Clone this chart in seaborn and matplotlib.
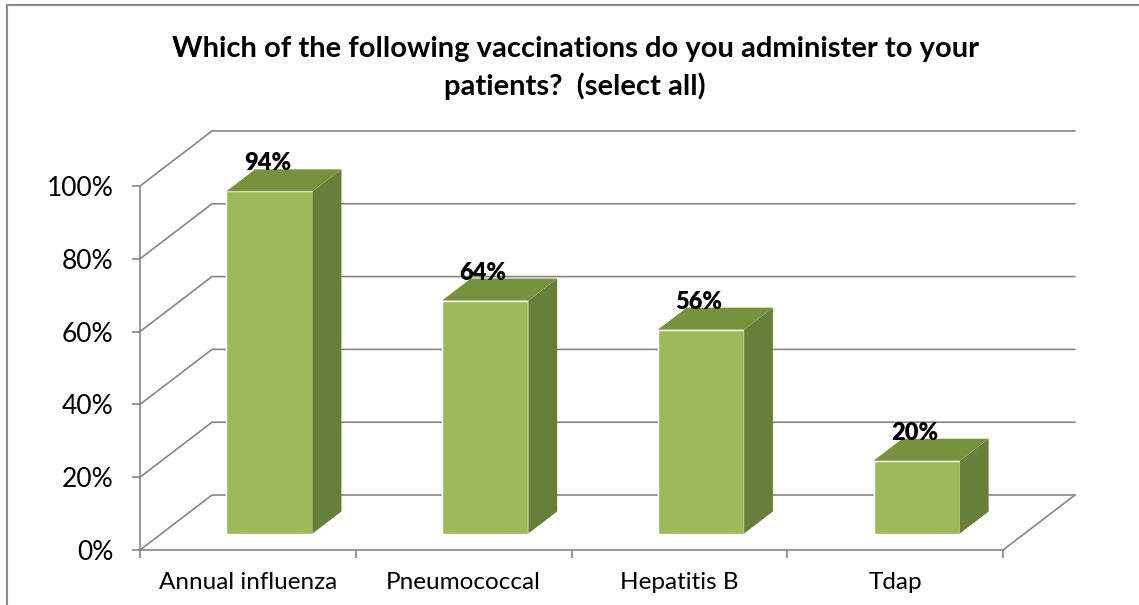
import matplotlib
matplotlib.use("Agg")
import matplotlib.pyplot as plt
import seaborn as sns
from matplotlib.patches import Polygon
from matplotlib.lines import Line2D

# data
categories = ["Annual influenza", "Pneumococcal", "Hepatitis B", "Tdap"]
values = [94, 64, 56, 20]
y_ticks = [0, 20, 40, 60, 80, 100]
y_tick_labels = ["0%", "20%", "40%", "60%", "80%", "100%"]
title = "Which of the following vaccinations do you administer to your\npatients?  (select all)"

front_col = "#9BBB59"
side_col = "#66803A"
top_col = "#76923C"
grid_col = "#868686"

sns.set_style("white")
plt.rcParams["font.family"] = ["Lato", "DejaVu Sans"]
plt.rcParams["text.color"] = "black"
plt.rcParams["xtick.labelcolor"] = "black"
plt.rcParams["ytick.labelcolor"] = "black"

W, H = 1139, 605
fig = plt.figure(figsize=(W / 100, H / 100), dpi=100)
# axes box = front face of the plot (pixels 140..1003, 186..550)
ax = fig.add_axes([140 / W, (H - 550) / H, 863 / W, 364 / H])
ax.set_xlim(-0.5, 3.5)
ax.set_ylim(0, 100)

# depth of the 3d box in data units
DX = 72 / 215.75
DY = 55 / 3.64
d0, d1 = 0.3, 0.7

# back wall gridlines + floor
for v in y_ticks:
    ax.plot([-0.5, -0.5 + DX, 3.5 + DX], [v, v + DY, v + DY], color=grid_col,
            lw=1.2, clip_on=False, zorder=1)
ax.plot([3.5, 3.5 + DX], [0, DY], color=grid_col, lw=1.2, clip_on=False, zorder=1)

sns.barplot(x=categories, y=values, width=0.4, color=front_col, saturation=1,
            ax=ax, zorder=3)

for p, v in zip(ax.patches, values):
    x0 = p.get_x()
    w = p.get_width()
    # push the bar into the middle of the depth
    p.set_x(x0 + d0 * DX)
    p.set_y(d0 * DY)
    p.set_height(v)
    p.set_clip_on(False)
    fx0 = x0 + d0 * DX
    fx1 = fx0 + w
    bot = d0 * DY
    top = v + d0 * DY
    ddx = (d1 - d0) * DX
    ddy = (d1 - d0) * DY
    ax.add_patch(Polygon([(fx1, bot), (fx1 + ddx, bot + ddy), (fx1 + ddx, top + ddy), (fx1, top)],
                         closed=True, facecolor=side_col, edgecolor="none", zorder=3, clip_on=False))
    ax.add_patch(Polygon([(fx0, top), (fx1, top), (fx1 + ddx, top + ddy), (fx0 + ddx, top + ddy)],
                         closed=True, facecolor=top_col, edgecolor="none", zorder=3, clip_on=False))
    ax.text(fx0 + w / 2 - 0.01, top + ddy - 1.4, f"{v}%", ha="center", va="bottom",
            fontsize=17, fontweight="heavy", color="black", zorder=5)

# axes styling
for s in ["top", "right"]:
    ax.spines[s].set_visible(False)
for s in ["left", "bottom"]:
    ax.spines[s].set_color(grid_col)
    ax.spines[s].set_linewidth(1.2)
ax.set_yticks(y_ticks)
ax.set_yticklabels(y_tick_labels)
ax.set_xticks([-0.5, 0.5, 1.5, 2.5, 3.5])
ax.set_xticklabels([])
ax.set_xticks([0, 1, 2, 3], minor=True)
ax.set_xticklabels(categories, minor=True)
ax.tick_params(axis="y", which="major", left=True, length=6, width=1.2, color=grid_col,
               labelsize=19, pad=13)
ax.tick_params(axis="x", which="major", bottom=True, length=6, width=1.2, color=grid_col)
ax.tick_params(axis="x", which="minor", bottom=True, length=0, labelsize=17.5, pad=16)
ax.set_xlabel("")
ax.set_ylabel("")

fig.text(575 / W, 1 - 68 / H, title, ha="center", va="center", fontsize=21,
         fontweight="bold", linespacing=1.5, color="black")

# chart border
fig.add_artist(Line2D([7 / W, 7 / W], [0, 1 - 5 / H], color="#8c8c8c", lw=1.5))
fig.add_artist(Line2D([7 / W, 1], [1 - 5 / H, 1 - 5 / H], color="#8c8c8c", lw=1.5))

fig.savefig("out.png", dpi=100)
